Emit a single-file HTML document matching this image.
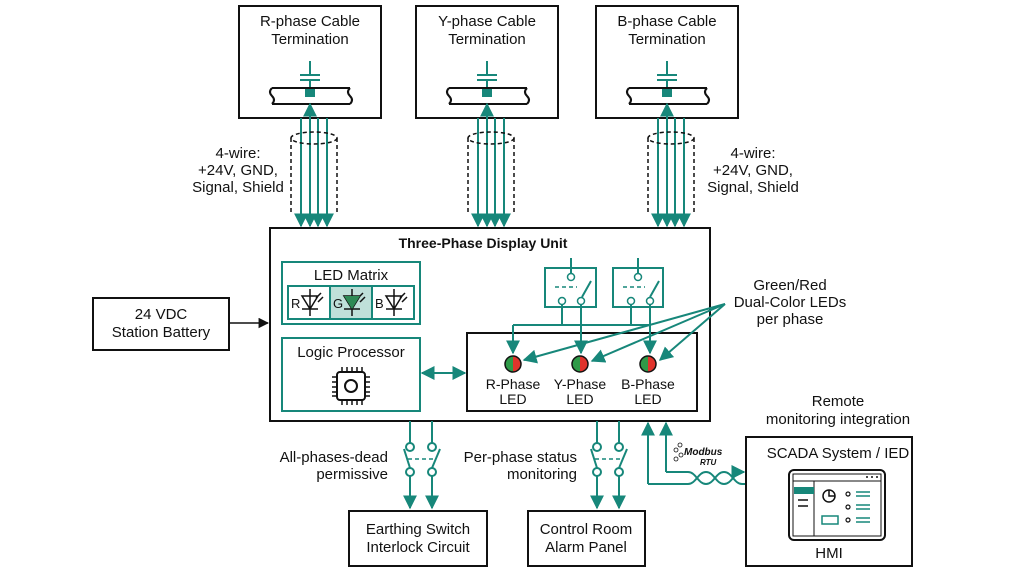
<!DOCTYPE html>
<html><head><meta charset="utf-8"><style>
body{margin:0;background:#fff}
svg{display:block}
text{font-family:"Liberation Sans",sans-serif;fill:#111}
</style></head><body>
<svg width="1024" height="572" viewBox="0 0 1024 572" xmlns="http://www.w3.org/2000/svg">
<defs>
<marker id="a" viewBox="0 0 10 10" refX="9" refY="5" markerWidth="7" markerHeight="7" orient="auto-start-reverse"><path d="M0,0L10,5L0,10z" fill="#17877a"/></marker>
<marker id="k" viewBox="0 0 10 10" refX="9" refY="5" markerWidth="7" markerHeight="7" orient="auto"><path d="M0,0L10,5L0,10z" fill="#111"/></marker>
<g id="term">
<rect x="0" y="0" width="142" height="112" fill="#fff" stroke="#111" stroke-width="2"/>
<line x1="71" y1="55" x2="71" y2="68" stroke="#17877a" stroke-width="2"/>
<line x1="61" y1="69" x2="81" y2="69" stroke="#17877a" stroke-width="2"/>
<line x1="61" y1="74" x2="81" y2="74" stroke="#17877a" stroke-width="2"/>
<line x1="71" y1="74" x2="71" y2="84" stroke="#17877a" stroke-width="2"/>
<rect x="66" y="82" width="10" height="9" fill="#17877a"/>
<path d="M33,82 H111 M33,98 H111 M33,82 q-4,4 0,8 q4,4 0,8 M111,82 q-4,4 0,8 q4,4 0,8" fill="none" stroke="#111" stroke-width="2"/>
</g>
<g id="wires" stroke="#17877a" stroke-width="2">
<line x1="-9" y1="118" x2="-9" y2="226" marker-end="url(#a)"/>
<line x1="0" y1="120" x2="0" y2="226" marker-end="url(#a)"/>
<line x1="8" y1="118" x2="8" y2="226" marker-end="url(#a)"/>
<line x1="17" y1="118" x2="17" y2="226" marker-end="url(#a)"/>
<line x1="0" y1="120" x2="0" y2="104" marker-end="url(#a)"/>
<g fill="none" stroke="#111" stroke-width="1.5" stroke-dasharray="4,3">
<ellipse cx="4" cy="138" rx="23" ry="6"/>
<path d="M-19,138 V212 M27,138 V212"/>
</g>
</g>
<g id="sw" fill="none" stroke="#17877a" stroke-width="2">
<line x1="0" y1="-26" x2="0" y2="-4"/><line x1="22" y1="-26" x2="22" y2="-4"/>
<line x1="-6" y1="2" x2="0" y2="21"/><line x1="30" y1="2" x2="22" y2="21"/>
<line x1="-2" y1="12" x2="26" y2="12" stroke-dasharray="4,3" stroke-width="1.5"/>
<line x1="0" y1="29" x2="0" y2="61" marker-end="url(#a)"/>
<line x1="22" y1="29" x2="22" y2="61" marker-end="url(#a)"/>
<circle cx="0" cy="0" r="4" fill="#fff"/><circle cx="22" cy="0" r="4" fill="#fff"/>
<circle cx="0" cy="25" r="4" fill="#fff"/><circle cx="22" cy="25" r="4" fill="#fff"/>
</g>
</defs>

<use href="#term" x="239" y="6"/><use href="#term" x="416" y="6"/><use href="#term" x="596" y="6"/>
<g font-size="15" text-anchor="middle">
<text x="310" y="26">R-phase Cable</text><text x="310" y="44">Termination</text>
<text x="487" y="26">Y-phase Cable</text><text x="487" y="44">Termination</text>
<text x="667" y="26">B-phase Cable</text><text x="667" y="44">Termination</text>
</g>
<use href="#wires" x="310"/><use href="#wires" x="487"/><use href="#wires" x="667"/>

<g font-size="15" text-anchor="middle">
<text x="238" y="158">4-wire:</text><text x="238" y="175">+24V, GND,</text><text x="238" y="192">Signal, Shield</text>
<text x="753" y="158">4-wire:</text><text x="753" y="175">+24V, GND,</text><text x="753" y="192">Signal, Shield</text>
</g>

<rect x="270" y="228" width="440" height="193" fill="none" stroke="#111" stroke-width="2"/>
<text x="483" y="248" font-size="14" font-weight="bold" text-anchor="middle">Three-Phase Display Unit</text>

<rect x="282" y="262" width="138" height="62" fill="#fff" stroke="#17877a" stroke-width="2"/>
<text x="351" y="280" font-size="15" text-anchor="middle">LED Matrix</text>
<rect x="330" y="286" width="42" height="33" fill="#bfe0d9"/>
<rect x="288" y="286" width="126" height="33" fill="none" stroke="#17877a" stroke-width="2"/>
<line x1="330" y1="286" x2="330" y2="319" stroke="#17877a" stroke-width="2"/>
<line x1="372" y1="286" x2="372" y2="319" stroke="#17877a" stroke-width="2"/>
<g font-size="13">
<text x="291" y="308">R</text><text x="333" y="308">G</text><text x="375" y="308">B</text>
</g>
<g stroke="#111" stroke-width="1.5" fill="none">
<path d="M310,289V316M302,296H318L310,309Z M302,309H318 M316,298l5,-5 M318,302l5,-5"/>
<path d="M352,289V316M344,296H360L352,309Z M344,309H360 M358,298l5,-5 M360,302l5,-5"/>
<path d="M394,289V316M386,296H402L394,309Z M386,309H402 M400,298l5,-5 M402,302l5,-5"/>
</g>
<path d="M344,296H360L352,309Z" fill="#2e8a55"/>

<rect x="282" y="338" width="138" height="73" fill="#fff" stroke="#17877a" stroke-width="2"/>
<text x="351" y="357" font-size="15" text-anchor="middle">Logic Processor</text>
<rect x="337" y="372" width="28" height="28" rx="3" fill="none" stroke="#111" stroke-width="2"/>
<circle cx="351" cy="386" r="6" fill="none" stroke="#111" stroke-width="2"/>
<g stroke="#111" stroke-width="1.5">
<path d="M342,367v5M347,367v5M352,367v5M357,367v5M362,367v5 M342,400v5M347,400v5M352,400v5M357,400v5M362,400v5 M332,377h5M332,382h5M332,387h5M332,392h5M332,396h5 M365,377h5M365,382h5M365,387h5M365,392h5M365,396h5"/>
</g>
<line x1="422" y1="373" x2="465" y2="373" stroke="#17877a" stroke-width="2" marker-start="url(#a)" marker-end="url(#a)"/>

<rect x="467" y="333" width="230" height="78" fill="none" stroke="#111" stroke-width="2"/>
<rect x="545" y="268" width="51" height="39" fill="#fff" stroke="#17877a" stroke-width="2"/>
<rect x="613" y="268" width="50" height="39" fill="#fff" stroke="#17877a" stroke-width="2"/>
<g stroke="#17877a" stroke-width="2" fill="none">
<path d="M571,258v15 M582,297l9,-16"/>
<path d="M555,287h22" stroke-dasharray="4,3" stroke-width="1.5"/>
<path d="M638,258v15 M650,297l9,-16"/>
<path d="M623,287h22" stroke-dasharray="4,3" stroke-width="1.5"/>
<path d="M562,305V325 M581,305V325 M631,305V325 M650,305V325"/>
<path d="M513,325 H650"/>
<line x1="513" y1="325" x2="513" y2="353" marker-end="url(#a)"/>
<line x1="581" y1="325" x2="581" y2="353" marker-end="url(#a)"/>
<line x1="650" y1="325" x2="650" y2="353" marker-end="url(#a)"/>
</g>
<g fill="#fff" stroke="#17877a" stroke-width="1.5">
<circle cx="571" cy="277" r="3.5"/><circle cx="562" cy="301" r="3.5"/><circle cx="581" cy="301" r="3.5"/>
<circle cx="638" cy="277" r="3.5"/><circle cx="631" cy="301" r="3.5"/><circle cx="650" cy="301" r="3.5"/>
</g>
<g>
<path d="M513,356a8,8 0 0 0 0,16z" fill="#2e9a48"/><path d="M513,356a8,8 0 0 1 0,16z" fill="#e0332c"/><circle cx="513" cy="364" r="8" fill="none" stroke="#111" stroke-width="1.5"/>
<path d="M580,356a8,8 0 0 0 0,16z" fill="#2e9a48"/><path d="M580,356a8,8 0 0 1 0,16z" fill="#e0332c"/><circle cx="580" cy="364" r="8" fill="none" stroke="#111" stroke-width="1.5"/>
<path d="M648,356a8,8 0 0 0 0,16z" fill="#2e9a48"/><path d="M648,356a8,8 0 0 1 0,16z" fill="#e0332c"/><circle cx="648" cy="364" r="8" fill="none" stroke="#111" stroke-width="1.5"/>
</g>
<g font-size="14" text-anchor="middle">
<text x="513" y="389">R-Phase</text><text x="513" y="404">LED</text>
<text x="580" y="389">Y-Phase</text><text x="580" y="404">LED</text>
<text x="648" y="389">B-Phase</text><text x="648" y="404">LED</text>
</g>
<g stroke="#17877a" stroke-width="2">
<line x1="725" y1="304" x2="524" y2="360" marker-end="url(#a)"/>
<line x1="725" y1="304" x2="592" y2="361" marker-end="url(#a)"/>
<line x1="725" y1="304" x2="660" y2="360" marker-end="url(#a)"/>
</g>
<g font-size="15" text-anchor="middle">
<text x="790" y="290">Green/Red</text><text x="790" y="307">Dual-Color LEDs</text><text x="790" y="324">per phase</text>
</g>

<rect x="93" y="298" width="136" height="52" fill="none" stroke="#111" stroke-width="2"/>
<g font-size="15" text-anchor="middle"><text x="161" y="319">24 VDC</text><text x="161" y="337">Station Battery</text></g>
<line x1="229" y1="323" x2="268" y2="323" stroke="#111" stroke-width="1.5" marker-end="url(#k)"/>

<!-- bottom switches -->
<g stroke="#17877a" stroke-width="2"></g>
<use href="#sw" x="410" y="447"/><use href="#sw" x="597" y="447"/>
<g font-size="15" text-anchor="end">
<text x="388" y="462">All-phases-dead</text><text x="388" y="479">permissive</text>
<text x="577" y="462">Per-phase status</text><text x="577" y="479">monitoring</text>
</g>
<rect x="349" y="511" width="138" height="55" fill="none" stroke="#111" stroke-width="2"/>
<g font-size="15" text-anchor="middle"><text x="418" y="534">Earthing Switch</text><text x="418" y="552">Interlock Circuit</text></g>
<rect x="528" y="511" width="117" height="55" fill="none" stroke="#111" stroke-width="2"/>
<g font-size="15" text-anchor="middle"><text x="586" y="534">Control Room</text><text x="586" y="552">Alarm Panel</text></g>

<!-- SCADA -->
<g stroke="#17877a" stroke-width="2" fill="none">
<path d="M648,484V423" marker-end="url(#a)"/>
<path d="M666,472V423" marker-end="url(#a)"/>
<path d="M648,484H688 M666,472H688"/>
<path d="M688,484c8,0 10,-12 18,-12s10,12 18,12 10,-12 18,-12"/>
<path d="M688,472c8,0 10,12 18,12s10,-12 18,-12 10,12 18,12"/>
<path d="M742,472H744" marker-end="url(#a)"/>
<path d="M742,484H746"/>
</g>
<text x="684" y="455" font-size="10" font-weight="bold" font-style="italic">Modbus</text>
<text x="700" y="465" font-size="8" font-weight="bold" font-style="italic">RTU</text>
<g fill="none" stroke="#111" stroke-width="0.8"><circle cx="680" cy="445" r="2"/><circle cx="676" cy="450" r="2"/><circle cx="681" cy="455" r="2"/><circle cx="676" cy="459" r="2"/></g>
<g font-size="15" text-anchor="middle"><text x="838" y="406">Remote</text><text x="838" y="424">monitoring integration</text></g>
<rect x="746" y="437" width="166" height="129" fill="none" stroke="#111" stroke-width="2"/>
<text x="838" y="458" font-size="15" text-anchor="middle">SCADA System / IED</text>
<rect x="789" y="470" width="96" height="70" rx="5" fill="none" stroke="#111" stroke-width="2"/>
<rect x="793" y="474" width="88" height="62" fill="none" stroke="#111" stroke-width="1"/>
<line x1="793" y1="481" x2="881" y2="481" stroke="#111" stroke-width="1"/>
<line x1="814" y1="481" x2="814" y2="536" stroke="#111" stroke-width="1"/>
<rect x="794" y="487" width="20" height="7" fill="#17877a"/>
<path d="M798,500h10M798,506h10" stroke="#111" stroke-width="1.5"/>
<circle cx="829" cy="496" r="6" fill="none" stroke="#111" stroke-width="1.5"/><path d="M829,490V496H835" fill="none" stroke="#111" stroke-width="1.5"/>
<rect x="822" y="516" width="16" height="8" fill="none" stroke="#17877a" stroke-width="1.5"/>
<g fill="none" stroke="#111" stroke-width="1.2"><circle cx="848" cy="494" r="2"/><circle cx="848" cy="507" r="2"/><circle cx="848" cy="520" r="2"/></g>
<g stroke="#17877a" stroke-width="1.5"><path d="M856,492h14M856,496h14M856,505h14M856,509h14M856,518h14M856,522h14"/></g>
<path d="M866,477h2M871,477h2M876,477h2" stroke="#111" stroke-width="1.5"/>
<text x="829" y="558" font-size="15" text-anchor="middle">HMI</text>
</svg>
</body></html>
